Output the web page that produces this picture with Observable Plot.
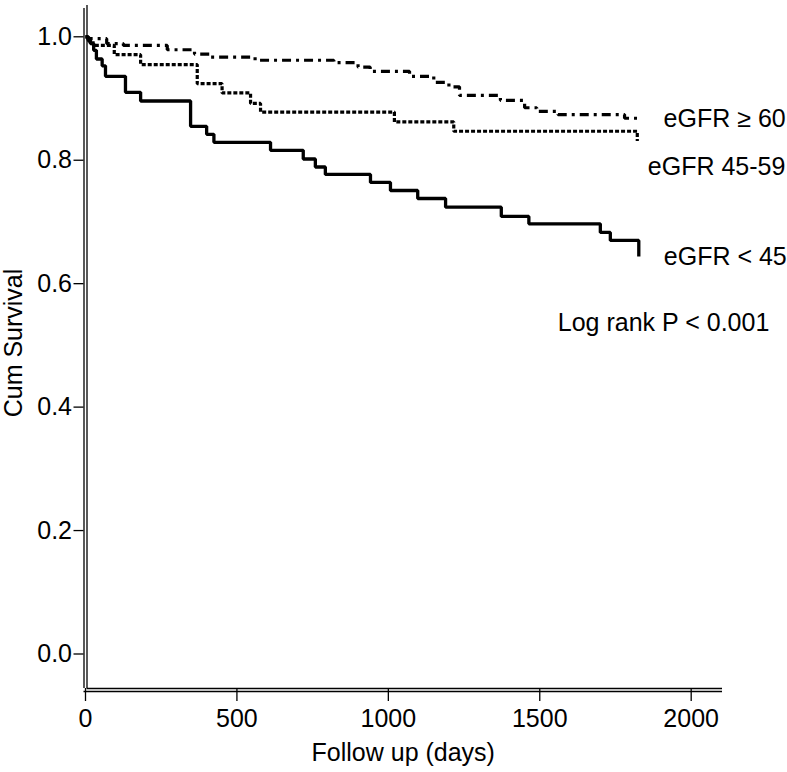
<!DOCTYPE html>
<html>
<head>
<meta charset="utf-8">
<script src="https://cdn.jsdelivr.net/npm/d3@7"></script>
<script src="https://cdn.jsdelivr.net/npm/@observablehq/plot@0.6"></script>
<style>
  html, body { margin: 0; padding: 0; background: #fff; }
  #chart { width: 787px; height: 772px; }
</style>
</head>
<body>
<div id="chart"></div>
<script>
// ---- Data (Kaplan–Meier step points) ----
const groupNames = ["eGFR \u2265 60", "eGFR 45-59", "eGFR < 45"];

const ge60Days = [0, 8, 70, 125, 270, 360, 410, 560, 820, 900, 940, 1070, 1150, 1200, 1235, 1370, 1450, 1490, 1560, 1780, 1833];
const ge60Surv = [1.0, 0.997, 0.989, 0.986, 0.979, 0.972, 0.967, 0.962, 0.958, 0.951, 0.944, 0.936, 0.926, 0.919, 0.905, 0.897, 0.885, 0.879, 0.874, 0.868, 0.866];

const mid4559Days = [0, 10, 25, 95, 182, 369, 451, 545, 578, 1020, 1216, 1822];
const mid4559Surv = [1.0, 0.993, 0.986, 0.971, 0.955, 0.924, 0.909, 0.892, 0.878, 0.862, 0.847, 0.831];

const lt45Days = [0, 8, 16, 27, 36, 55, 66, 132, 182, 347, 400, 424, 611, 719, 759, 792, 941, 1007, 1097, 1189, 1373, 1464, 1700, 1733, 1827];
const lt45Surv = [1.0, 0.995, 0.989, 0.978, 0.964, 0.953, 0.936, 0.910, 0.896, 0.855, 0.842, 0.829, 0.816, 0.802, 0.789, 0.777, 0.764, 0.751, 0.738, 0.724, 0.709, 0.697, 0.683, 0.670, 0.644];

const xTicks = [0, 500, 1000, 1500, 2000];
const yTicks = [0.0, 0.2, 0.4, 0.6, 0.8, 1.0];
const xLabel = "Follow up (days)";
const yLabel = "Cum Survival";
const pLabel = "Log rank P < 0.001";

// ---- Build tables ----
const toRows = (days, surv, g) => days.map((d, i) => ({day: d, surv: surv[i], group: g}));
const ge60 = toRows(ge60Days, ge60Surv, groupNames[0]);
const mid = toRows(mid4559Days, mid4559Surv, groupNames[1]);
const lt45 = toRows(lt45Days, lt45Surv, groupNames[2]);
const last = rows => rows[rows.length - 1];

const xDomain = [-4.95, 2103.4];
const yDomain = [-0.0559, 1.0507];
const FONT = "'Liberation Sans', Arial, Helvetica, sans-serif";

const chart = Plot.plot({
  width: 787,
  height: 772,
  marginLeft: 83.5,
  marginRight: 65,
  marginTop: 5,
  marginBottom: 84,
  style: {fontFamily: FONT, fontSize: "25px", background: "#fff", color: "#000"},
  x: {domain: xDomain},
  y: {domain: yDomain},
  marks: [
    // double-line axes (SPSS style)
    Plot.ruleX([xDomain[0]], {y1: yDomain[0], y2: yDomain[1], insetBottom: -3, stroke: "#000", strokeWidth: 1.3}),
    Plot.ruleX([xDomain[0]], {y1: yDomain[0], y2: yDomain[1], dx: 3, stroke: "#000", strokeWidth: 1.3}),
    Plot.ruleY([yDomain[0]], {x1: xDomain[0], x2: xDomain[1], insetLeft: 3, stroke: "#000", strokeWidth: 1.3}),
    Plot.ruleY([yDomain[0]], {x1: xDomain[0], x2: xDomain[1], dy: 3, stroke: "#000", strokeWidth: 1.3}),
    Plot.axisY({ticks: yTicks, tickFormat: d3.format(".1f"), tickSize: 10, tickPadding: 2, label: null, fontSize: 25, strokeWidth: 1.3}),
    Plot.axisX({ticks: xTicks, tickFormat: d3.format("d"), tickSize: 13, tickPadding: 8, label: null, fontSize: 25, strokeWidth: 1.3}),
    // survival curves
    Plot.line(ge60, {x: "day", y: "surv", curve: "step-after", stroke: "#000", strokeWidth: 3.2, strokeDasharray: "9,5,3,5", strokeLinecap: "butt", strokeLinejoin: "miter"}),
    Plot.line(mid, {x: "day", y: "surv", curve: "step-after", stroke: "#000", strokeWidth: 3.2, strokeDasharray: "4,2", strokeLinecap: "butt", strokeLinejoin: "miter"}),
    Plot.line(lt45, {x: "day", y: "surv", curve: "step-after", stroke: "#000", strokeWidth: 3.3, strokeLinecap: "butt", strokeLinejoin: "miter"}),
    // curve labels
    Plot.text([last(ge60)], {x: "day", y: "surv", text: "group", dx: 23, dy: 0, textAnchor: "start", lineAnchor: "middle", fontSize: 25, fill: "#000"}),
    Plot.text([last(mid)], {x: "day", y: "surv", text: "group", dx: 10.5, dy: 26, textAnchor: "start", lineAnchor: "middle", fontSize: 25, fill: "#000"}),
    Plot.text([last(lt45)], {x: "day", y: "surv", text: "group", dx: 25, dy: 0, textAnchor: "start", lineAnchor: "middle", fontSize: 25, fill: "#000"}),
    Plot.text([last(lt45)], {x: "day", y: "surv", text: () => pLabel, dx: -81, dy: 66, textAnchor: "start", lineAnchor: "middle", fontSize: 25, fill: "#000"}),
    // axis titles
    Plot.text([xLabel], {frameAnchor: "bottom", text: d => d, dy: 64, textAnchor: "middle", lineAnchor: "middle", fontSize: 25, fill: "#000"}),
    Plot.text([yLabel], {frameAnchor: "left", text: d => d, dx: -70, dy: -4, rotate: -90, textAnchor: "middle", lineAnchor: "middle", fontSize: 25, fill: "#000"})
  ]
});
document.getElementById("chart").appendChild(chart);
</script>
</body>
</html>
